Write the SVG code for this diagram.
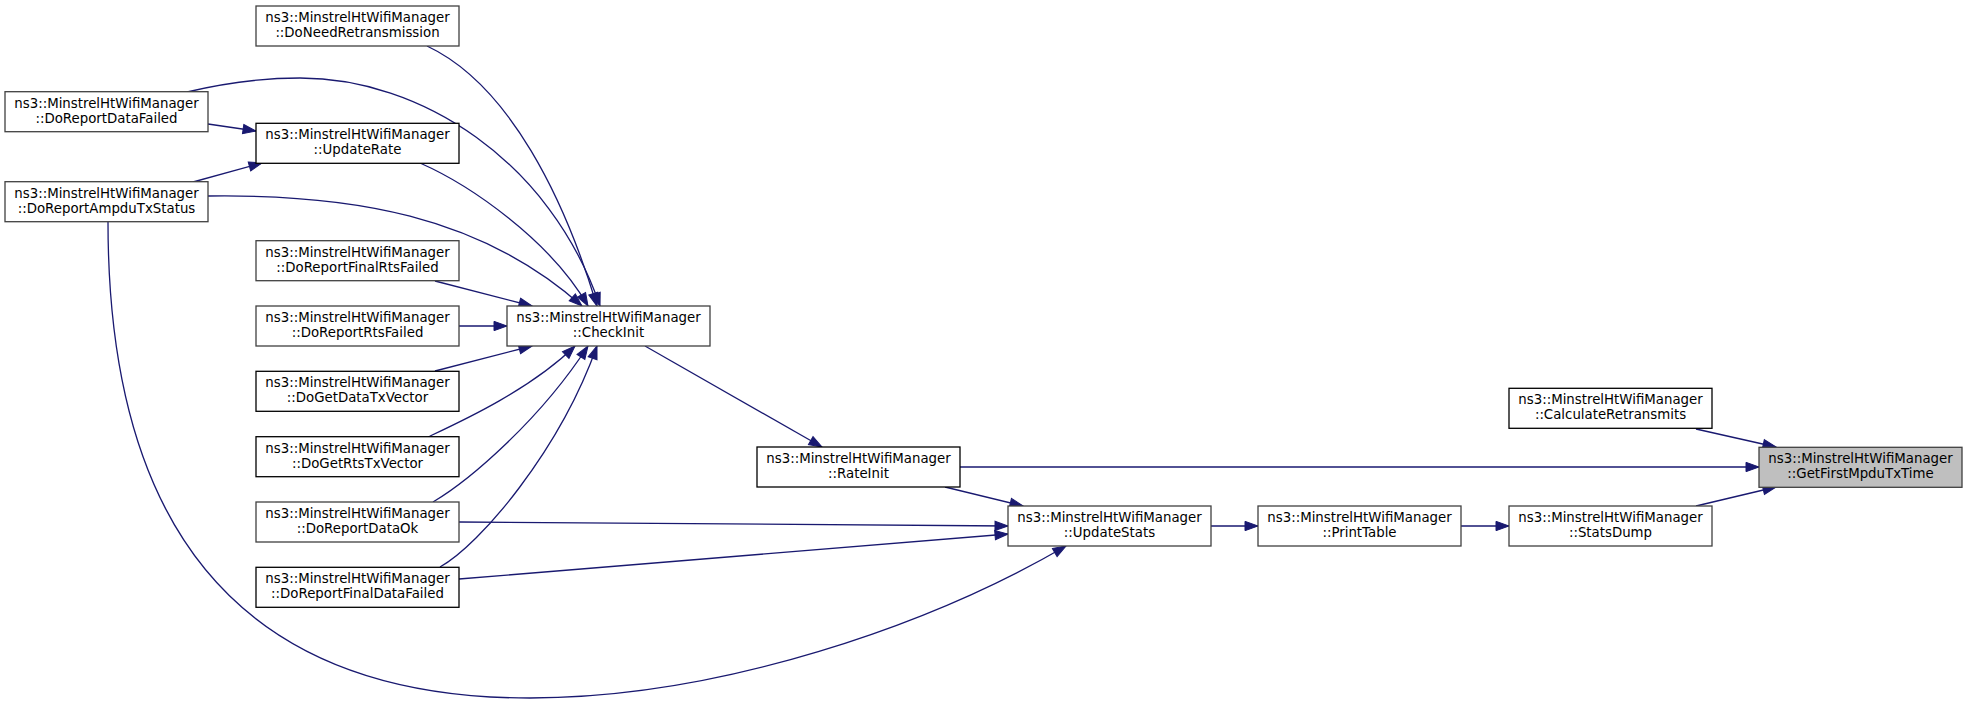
<svg xmlns="http://www.w3.org/2000/svg" width="1968" height="704" viewBox="0 0 1968 704">
<style>
.n rect{fill:#ffffff;stroke:#404040;stroke-width:1.3}
.n.k rect{stroke:#000000}
.n.root rect{fill:#bfbfbf;stroke:#404040}
.n text{font-family:"DejaVu Sans",sans-serif;font-size:13.33px;fill:#000000;text-anchor:middle}
.e path{fill:none;stroke:#191970;stroke-width:1.3;marker-end:url(#ah)}
</style>
<defs>
<marker id="ah" markerUnits="userSpaceOnUse" markerWidth="14" markerHeight="10" refX="13" refY="4.65" orient="auto" overflow="visible">
<path d="M0,0 L13,4.65 L0,9.3 Z" fill="#191970" stroke="#191970" stroke-width="1"/>
</marker>
</defs>
<rect width="1968" height="704" fill="#ffffff"/>
<g id="edges" class="e">
<path d="M427,46 C510,85 565,200 597,306"/>
<path d="M187,92 C225,83 265,78 300,78 C420,78 550,160 600,306"/>
<path d="M208,124 L256,131"/>
<path d="M193,182 L262,163"/>
<path d="M420,163 C470,185 550,240 588,306"/>
<path d="M208,196 C350,194 480,215 582,306"/>
<path d="M435,281 L532,306"/>
<path d="M459,326 L507,326"/>
<path d="M435,371 L532,346"/>
<path d="M428,437 C460,422 530,390 575,346"/>
<path d="M433,502 C470,480 540,420 588,346"/>
<path d="M440,567 C480,545 560,450 597,346"/>
<path d="M645,346 L822,447"/>
<path d="M960,467 L1759,467"/>
<path d="M945,487 L1023,506"/>
<path d="M459,522 L1008,526"/>
<path d="M459,579 L1008,534"/>
<path d="M108,222 C108,480 200,698 530,698 C720,698 930,625 1066,546"/>
<path d="M1211,526 L1258,526"/>
<path d="M1461,526 L1509,526"/>
<path d="M1696,429 L1776,447"/>
<path d="M1696,506 L1776,487"/>
</g>
<g id="n_DoNeedRetransmission" class="n"><rect x="256" y="6" width="203" height="40"/><text x="357.5" y="22">ns3::MinstrelHtWifiManager</text><text x="357.5" y="37">::DoNeedRetransmission</text></g>
<g id="n_DoReportDataFailed" class="n"><rect x="5" y="91.7" width="203" height="40"/><text x="106.5" y="107.7">ns3::MinstrelHtWifiManager</text><text x="106.5" y="122.7">::DoReportDataFailed</text></g>
<g id="n_UpdateRate" class="n k"><rect x="256" y="123.3" width="203" height="40"/><text x="357.5" y="139.3">ns3::MinstrelHtWifiManager</text><text x="357.5" y="154.3">::UpdateRate</text></g>
<g id="n_DoReportAmpduTxStatus" class="n"><rect x="5" y="181.7" width="203" height="40"/><text x="106.5" y="197.7">ns3::MinstrelHtWifiManager</text><text x="106.5" y="212.7">::DoReportAmpduTxStatus</text></g>
<g id="n_DoReportFinalRtsFailed" class="n"><rect x="256" y="240.7" width="203" height="40"/><text x="357.5" y="256.7">ns3::MinstrelHtWifiManager</text><text x="357.5" y="271.7">::DoReportFinalRtsFailed</text></g>
<g id="n_DoReportRtsFailed" class="n"><rect x="256" y="306" width="203" height="40"/><text x="357.5" y="322">ns3::MinstrelHtWifiManager</text><text x="357.5" y="337">::DoReportRtsFailed</text></g>
<g id="n_DoGetDataTxVector" class="n k"><rect x="256" y="371.3" width="203" height="40"/><text x="357.5" y="387.3">ns3::MinstrelHtWifiManager</text><text x="357.5" y="402.3">::DoGetDataTxVector</text></g>
<g id="n_DoGetRtsTxVector" class="n k"><rect x="256" y="436.7" width="203" height="40"/><text x="357.5" y="452.7">ns3::MinstrelHtWifiManager</text><text x="357.5" y="467.7">::DoGetRtsTxVector</text></g>
<g id="n_DoReportDataOk" class="n"><rect x="256" y="502" width="203" height="40"/><text x="357.5" y="518">ns3::MinstrelHtWifiManager</text><text x="357.5" y="533">::DoReportDataOk</text></g>
<g id="n_DoReportFinalDataFailed" class="n k"><rect x="256" y="567.3" width="203" height="40"/><text x="357.5" y="583.3">ns3::MinstrelHtWifiManager</text><text x="357.5" y="598.3">::DoReportFinalDataFailed</text></g>
<g id="n_CheckInit" class="n"><rect x="507" y="306" width="203" height="40"/><text x="608.5" y="322">ns3::MinstrelHtWifiManager</text><text x="608.5" y="337">::CheckInit</text></g>
<g id="n_RateInit" class="n k"><rect x="757" y="447" width="203" height="40"/><text x="858.5" y="463">ns3::MinstrelHtWifiManager</text><text x="858.5" y="478">::RateInit</text></g>
<g id="n_UpdateStats" class="n"><rect x="1008" y="506" width="203" height="40"/><text x="1109.5" y="522">ns3::MinstrelHtWifiManager</text><text x="1109.5" y="537">::UpdateStats</text></g>
<g id="n_PrintTable" class="n"><rect x="1258" y="506" width="203" height="40"/><text x="1359.5" y="522">ns3::MinstrelHtWifiManager</text><text x="1359.5" y="537">::PrintTable</text></g>
<g id="n_StatsDump" class="n"><rect x="1509" y="506" width="203" height="40"/><text x="1610.5" y="522">ns3::MinstrelHtWifiManager</text><text x="1610.5" y="537">::StatsDump</text></g>
<g id="n_CalculateRetransmits" class="n k"><rect x="1509" y="388.3" width="203" height="40"/><text x="1610.5" y="404.3">ns3::MinstrelHtWifiManager</text><text x="1610.5" y="419.3">::CalculateRetransmits</text></g>
<g id="n_GetFirstMpduTxTime" class="n root"><rect x="1759" y="447.3" width="203" height="40"/><text x="1860.5" y="463.3">ns3::MinstrelHtWifiManager</text><text x="1860.5" y="478.3">::GetFirstMpduTxTime</text></g>
</svg>
